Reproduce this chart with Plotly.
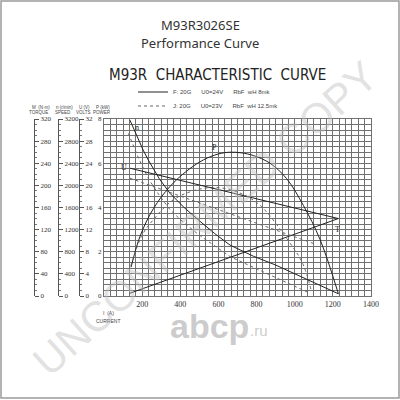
import plotly.graph_objects as go

W = H = 400

def px(x):
    return x / W

def py(y):
    return 1 - y / H

# ---------------- data ----------------
x_ticks = [200, 400, 600, 800, 1000, 1200, 1400]
torque_ticks = [0, 40, 80, 120, 160, 200, 240, 280, 320]
speed_ticks = [0, 400, 800, 1200, 1600, 2000, 2400, 2800, 3200]
volt_ticks = [0, 4, 8, 12, 16, 20, 24, 28, 32]
power_ticks = [0, 2, 4, 6, 8]

# solid set (U0 = 24V)
n24_I = [136, 160, 180, 205, 232, 260, 290, 346, 420, 500, 580, 661, 783, 900, 1000, 1100, 1229]
n24_rpm = [3180, 2990, 2820, 2640, 2460, 2290, 2120, 1856, 1600, 1360, 1130, 920, 720, 560, 400, 240, 40]
U24_I = [136, 1229]
U24_V = [23.1, 14.0]
T24_I = [136, 1229]
T24_Nm = [5, 140]
P24_I = [142, 189, 259, 346, 434, 521, 600, 661, 720, 783, 871, 958, 1045, 1133, 1229]
P24_kW = [1.3, 2.7, 3.95, 4.95, 5.65, 6.15, 6.42, 6.5, 6.47, 6.35, 6.0, 5.3, 4.1, 2.55, 0.1]

# dotted set (U0 = 23V)
n23_I = [128, 180, 232, 280, 346, 420, 500, 580, 661, 800, 950, 1081]
n23_rpm = [2940, 2500, 2128, 1870, 1560, 1320, 1100, 900, 712, 492, 255, 48]
U23_I = [136, 1098]
U23_V = [21.3, 9.5]
P23_I = [140, 200, 259, 364, 486, 591, 700, 818, 958, 1040, 1085]
P23_kW = [1.35, 2.75, 3.45, 4.35, 4.8, 4.9, 4.7, 4.1, 2.6, 1.5, 0.3]

leg_solid = "F: 20G      U0=24V      RbF  wH 8mk"
leg_dot = "J: 20G      U0=23V      RbF  wH 12.5mk"

# ---------------- figure ----------------
SOLID = dict(color="#222222", width=1)
DOT = dict(color="#666666", width=1, dash="dot")

fig = go.Figure()
fig.add_trace(go.Scatter(x=n24_I, y=n24_rpm, yaxis="y3", mode="lines", line=SOLID,
                         name=leg_solid, showlegend=True, legend="legend", hoverinfo="skip"))
fig.add_trace(go.Scatter(x=n23_I, y=n23_rpm, yaxis="y3", mode="lines", line=DOT,
                         name=leg_dot, showlegend=True, legend="legend2", hoverinfo="skip"))
fig.add_trace(go.Scatter(x=U24_I, y=U24_V, yaxis="y4", mode="lines", line=SOLID, showlegend=False))
fig.add_trace(go.Scatter(x=U23_I, y=U23_V, yaxis="y4", mode="lines", line=DOT, showlegend=False))
fig.add_trace(go.Scatter(x=T24_I, y=T24_Nm, yaxis="y2", mode="lines", line=SOLID, showlegend=False))
fig.add_trace(go.Scatter(x=P24_I, y=P24_kW, yaxis="y", mode="lines", line=SOLID,
                         line_shape="spline", showlegend=False))
fig.add_trace(go.Scatter(x=P23_I, y=P23_kW, yaxis="y", mode="lines", line=DOT,
                         line_shape="spline", showlegend=False))

GRID = "#707070"
TICKF = dict(family="Liberation Serif, DejaVu Serif, serif", size=7, color="#333")
XDOM = [px(104), px(371)]
YDOM = [py(296), py(119)]

def side_axis(pos, rng, vals, minor_dt):
    return dict(overlaying="y", anchor="free", position=pos, side="right",
                range=rng, tickvals=vals, ticks="outside", ticklen=4,
                tickcolor="#555", showgrid=False, zeroline=False, automargin=False,
                showline=True, linecolor="#555", linewidth=1,
                minor=dict(dtick=minor_dt, tick0=0, ticks="outside", ticklen=2, tickcolor="#777"),
                tickfont=TICKF)

LEGF = dict(family="Liberation Sans, sans-serif", size=6, color="#444")

fig.update_layout(
    template="none",
    width=W, height=H, autosize=False,
    margin=dict(l=0, r=0, t=0, b=0, pad=0, autoexpand=False),
    paper_bgcolor="white", plot_bgcolor="white",
    hovermode=False,
    xaxis=dict(domain=XDOM, range=[0, 1400], tickvals=x_ticks,
               ticktext=[str(v) for v in x_ticks], ticks="", automargin=False,
               showgrid=True, gridcolor=GRID, gridwidth=1,
               minor=dict(tick0=0, dtick=100 / 3, showgrid=True, gridcolor=GRID, gridwidth=1),
               showline=True, mirror=True, linecolor=GRID, linewidth=1,
               zeroline=False,
               tickfont=dict(family=TICKF["family"], size=8, color="#333")),
    yaxis=dict(domain=YDOM, range=[0, 8], tickvals=power_ticks, ticks="", automargin=False,
               showgrid=True, gridcolor=GRID, gridwidth=1,
               minor=dict(tick0=0, dtick=0.25, showgrid=True, gridcolor=GRID, gridwidth=1),
               showline=True, mirror=True, linecolor=GRID, linewidth=1,
               zeroline=False, tickfont=TICKF),
    yaxis2=side_axis(px(34), [0, 320], torque_ticks, 10),
    yaxis3=side_axis(px(58), [0, 3200], speed_ticks, 100),
    yaxis4=side_axis(px(79), [0, 32], volt_ticks, 1),
    showlegend=True,
    legend=dict(x=px(133), y=py(92), xanchor="left", yanchor="middle",
                bgcolor="rgba(0,0,0,0)", borderwidth=0, font=LEGF, itemwidth=30),
    legend2=dict(x=px(133), y=py(106), xanchor="left", yanchor="middle",
                 bgcolor="rgba(0,0,0,0)", borderwidth=0, font=LEGF, itemwidth=30),
)

ann = []
def text(x, y, s, size, color="#222", family="Noto Sans, Open Sans, sans-serif", **kw):
    ann.append(dict(x=px(x), y=py(y), xref="paper", yref="paper", text=s, showarrow=False,
                    xanchor="center", yanchor="middle",
                    font=dict(family=family, size=size, color=color), **kw))

text(200, 25, "M93R3026SE", 13, "#333")
text(200, 43, "Performance Curve", 13, "#333")
text(217, 75, "M93R  CHARACTERISTIC  CURVE", 15, "#222",
     family="Liberation Sans Narrow, DejaVu Sans Condensed, Liberation Sans, sans-serif")

small = "Liberation Sans, sans-serif"
text(41, 107, "M  (N·m)", 4.5, "#444", small)
text(38, 112, "TORQUE", 4.5, "#444", small)
text(64, 107, "n (r/min)", 4.5, "#444", small)
text(63, 112, "SPEED", 4.5, "#444", small)
text(84, 107, "U (V)", 4.5, "#444", small)
text(83, 112, "VOLTS", 4.5, "#444", small)
text(103, 107, "P (kW)", 4.5, "#444", small)
text(102, 112, "POWER", 4.5, "#444", small)
text(108, 313, "I  (A)", 5, "#444", small)
text(108, 321, "CURRENT", 5, "#444", small)

# curve labels (data coordinates)
serif = "Liberation Serif, serif"
for (xi, yi, s) in [(175, 7.6, "n"), (104, 5.8, "U"), (580, 6.7, "P"), (1222, 3.0, "T")]:
    ann.append(dict(x=xi, y=yi, xref="x", yref="y", text=s, showarrow=False,
                    font=dict(family=serif, size=8, color="#222")))

# watermark
text(205, 218, "UNCONFIRMED COPY", 42, "rgba(190,190,190,0.45)",
     "Liberation Sans, sans-serif", textangle=-42)
text(209, 326, "<b>abcp</b>", 34, "rgba(195,195,195,0.85)", "Liberation Sans, sans-serif")
text(259, 330, ".ru", 15, "rgba(195,195,195,0.85)", "Liberation Sans, sans-serif")

fig.update_layout(annotations=ann)

fig.update_layout(shapes=[
    dict(type="rect", xref="paper", yref="paper", x0=px(1), y0=py(398), x1=px(399), y1=py(1),
         line=dict(color="#9a9a9a", width=1.5)),
])

fig.write_html("out.html", config={"displayModeBar": False, "staticPlot": True},
               post_script="document.body.style.margin='0px';")
